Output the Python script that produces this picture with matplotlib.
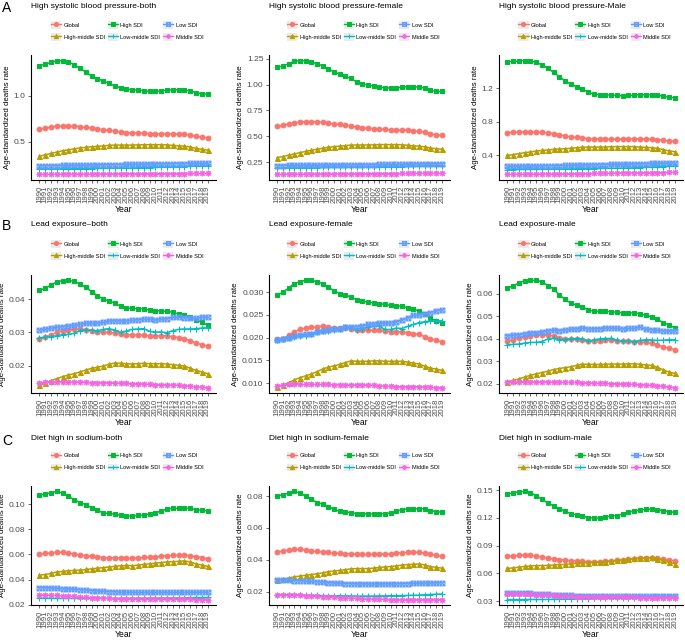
import matplotlib
matplotlib.use('Agg')
import matplotlib.pyplot as plt
from matplotlib.patches import Rectangle
from matplotlib.lines import Line2D
from matplotlib.legend_handler import HandlerTuple
from matplotlib.path import Path

plt.rcParams['font.family'] = ['Liberation Sans', 'DejaVu Sans']

years = list(range(1990, 2020))
groups = ["Global", "High-middle SDI", "High SDI", "Low-middle SDI", "Low SDI", "Middle SDI"]
colors = ["#F8766D", "#B79F00", "#00BA38", "#00BFC4", "#619CFF", "#F564E3"]

# ---------------- A: High systolic blood pressure ----------------
hsbp_both_global = [0.640,0.650,0.660,0.670,0.672,0.672,0.670,0.665,0.658,0.650,0.640,0.632,0.625,0.618,0.605,0.600,0.598,0.596,0.594,0.590,0.588,0.588,0.590,0.588,0.585,0.582,0.575,0.562,0.552,0.545]
hsbp_both_hm = [0.345,0.360,0.375,0.390,0.405,0.415,0.425,0.435,0.442,0.448,0.452,0.458,0.463,0.466,0.466,0.466,0.466,0.468,0.470,0.470,0.470,0.470,0.468,0.462,0.458,0.455,0.445,0.430,0.420,0.412]
hsbp_both_high = [1.322,1.340,1.360,1.378,1.375,1.365,1.335,1.295,1.255,1.212,1.180,1.160,1.132,1.105,1.085,1.072,1.065,1.060,1.055,1.048,1.048,1.052,1.060,1.065,1.062,1.060,1.052,1.032,1.022,1.015]
hsbp_both_lm = [0.207,0.207,0.208,0.208,0.209,0.209,0.210,0.210,0.211,0.212,0.213,0.214,0.215,0.216,0.217,0.218,0.219,0.220,0.221,0.222,0.224,0.226,0.228,0.230,0.232,0.234,0.236,0.238,0.239,0.240]
hsbp_both_low = [0.242,0.243,0.244,0.245,0.246,0.247,0.248,0.249,0.250,0.251,0.252,0.253,0.254,0.255,0.256,0.257,0.258,0.259,0.260,0.261,0.262,0.263,0.264,0.265,0.266,0.266,0.267,0.268,0.269,0.270]
hsbp_both_mid = [0.150,0.150,0.151,0.151,0.151,0.152,0.152,0.152,0.152,0.153,0.153,0.153,0.154,0.154,0.154,0.155,0.155,0.155,0.156,0.156,0.156,0.157,0.157,0.158,0.158,0.158,0.159,0.159,0.160,0.160]

hsbp_f_global = [0.595,0.605,0.618,0.630,0.638,0.642,0.642,0.640,0.635,0.628,0.620,0.614,0.608,0.600,0.590,0.582,0.578,0.574,0.570,0.566,0.563,0.562,0.561,0.558,0.553,0.548,0.540,0.527,0.513,0.508]
hsbp_f_hm = [0.295,0.305,0.318,0.330,0.342,0.355,0.365,0.375,0.385,0.393,0.400,0.405,0.410,0.415,0.416,0.416,0.416,0.418,0.420,0.420,0.420,0.420,0.418,0.413,0.408,0.405,0.398,0.388,0.380,0.375]
hsbp_f_high = [1.165,1.180,1.200,1.225,1.230,1.230,1.220,1.200,1.180,1.150,1.122,1.100,1.080,1.058,1.025,1.005,0.995,0.985,0.975,0.970,0.965,0.968,0.975,0.980,0.978,0.975,0.965,0.945,0.935,0.933]
hsbp_f_lm = [0.195,0.195,0.196,0.196,0.197,0.197,0.198,0.198,0.199,0.199,0.200,0.200,0.201,0.201,0.202,0.202,0.203,0.203,0.204,0.205,0.206,0.207,0.208,0.209,0.210,0.211,0.212,0.213,0.214,0.215]
hsbp_f_low = [0.218,0.218,0.219,0.219,0.220,0.220,0.221,0.221,0.222,0.222,0.223,0.223,0.224,0.224,0.225,0.226,0.226,0.227,0.228,0.228,0.229,0.230,0.230,0.231,0.232,0.233,0.233,0.234,0.235,0.236]
hsbp_f_mid = [0.133,0.133,0.134,0.134,0.134,0.135,0.135,0.135,0.136,0.136,0.136,0.137,0.137,0.137,0.138,0.138,0.138,0.139,0.139,0.139,0.140,0.140,0.141,0.141,0.141,0.142,0.142,0.142,0.143,0.143]

hsbp_m_global = [0.672,0.675,0.680,0.683,0.682,0.680,0.675,0.668,0.658,0.645,0.633,0.622,0.615,0.610,0.600,0.597,0.595,0.594,0.594,0.594,0.595,0.597,0.598,0.598,0.596,0.594,0.590,0.582,0.574,0.568]
hsbp_m_hm = [0.400,0.410,0.422,0.432,0.442,0.452,0.460,0.466,0.472,0.477,0.480,0.485,0.492,0.498,0.500,0.500,0.500,0.502,0.504,0.505,0.506,0.506,0.505,0.500,0.496,0.493,0.485,0.470,0.455,0.445]
hsbp_m_high = [1.518,1.522,1.527,1.530,1.525,1.510,1.480,1.440,1.390,1.340,1.290,1.250,1.220,1.190,1.155,1.130,1.125,1.122,1.120,1.115,1.113,1.115,1.120,1.125,1.123,1.125,1.120,1.105,1.095,1.088]
hsbp_m_lm = [0.232,0.232,0.233,0.233,0.234,0.235,0.235,0.236,0.237,0.238,0.239,0.240,0.241,0.242,0.243,0.244,0.245,0.246,0.247,0.248,0.249,0.250,0.252,0.255,0.258,0.261,0.264,0.267,0.270,0.272]
hsbp_m_low = [0.270,0.271,0.272,0.273,0.274,0.275,0.276,0.277,0.278,0.280,0.281,0.283,0.284,0.286,0.287,0.289,0.290,0.292,0.293,0.295,0.296,0.298,0.299,0.301,0.302,0.304,0.306,0.308,0.310,0.312]
hsbp_m_mid = [0.175,0.175,0.176,0.176,0.177,0.177,0.178,0.178,0.179,0.179,0.180,0.181,0.182,0.183,0.184,0.185,0.186,0.187,0.188,0.189,0.190,0.191,0.192,0.193,0.194,0.195,0.196,0.196,0.197,0.198]

# ---------------- B: Lead exposure ----------------
lead_both_global = [0.0281,0.0286,0.0292,0.0300,0.0305,0.0307,0.0309,0.0310,0.0308,0.0304,0.0302,0.0300,0.0300,0.0298,0.0294,0.0293,0.0293,0.0293,0.0292,0.0290,0.0290,0.0290,0.0289,0.0287,0.0284,0.0281,0.0275,0.0268,0.0263,0.0259]
lead_both_hm = [0.0141,0.0148,0.0155,0.0161,0.0167,0.0172,0.0176,0.0181,0.0187,0.0192,0.0195,0.0199,0.0204,0.0208,0.0207,0.0206,0.0205,0.0206,0.0207,0.0206,0.0206,0.0206,0.0205,0.0203,0.0201,0.0199,0.0192,0.0186,0.0181,0.0176]
lead_both_high = [0.0426,0.0432,0.0442,0.0452,0.0455,0.0456,0.0453,0.0445,0.0435,0.0422,0.0410,0.0400,0.0394,0.0388,0.0378,0.0374,0.0372,0.0371,0.0370,0.0367,0.0365,0.0364,0.0363,0.0360,0.0355,0.0352,0.0346,0.0338,0.0330,0.0322]
lead_both_lm = [0.0284,0.0285,0.0287,0.0290,0.0293,0.0294,0.0297,0.0305,0.0308,0.0306,0.0305,0.0309,0.0311,0.0307,0.0300,0.0304,0.0309,0.0310,0.0311,0.0303,0.0301,0.0301,0.0299,0.0305,0.0309,0.0310,0.0310,0.0311,0.0313,0.0314]
lead_both_low = [0.0307,0.0309,0.0312,0.0315,0.0317,0.0319,0.0321,0.0324,0.0327,0.0327,0.0328,0.0330,0.0333,0.0335,0.0334,0.0334,0.0336,0.0338,0.0339,0.0339,0.0337,0.0339,0.0341,0.0346,0.0345,0.0344,0.0342,0.0342,0.0345,0.0346]
lead_both_mid = [0.0148,0.0150,0.0151,0.0151,0.0151,0.0151,0.0151,0.0151,0.0150,0.0149,0.0149,0.0149,0.0149,0.0148,0.0147,0.0147,0.0146,0.0146,0.0145,0.0144,0.0143,0.0143,0.0142,0.0142,0.0141,0.0140,0.0139,0.0137,0.0135,0.0134]

lead_f_global = [0.0196,0.0198,0.0205,0.0213,0.0218,0.0221,0.0223,0.0224,0.0225,0.0223,0.0222,0.0222,0.0222,0.0220,0.0217,0.0216,0.0216,0.0216,0.0216,0.0214,0.0213,0.0213,0.0212,0.0211,0.0209,0.0207,0.0202,0.0197,0.0194,0.0191]
lead_f_hm = [0.0092,0.0096,0.0101,0.0107,0.0112,0.0116,0.0120,0.0125,0.0131,0.0135,0.0138,0.0141,0.0145,0.0149,0.0148,0.0148,0.0148,0.0149,0.0149,0.0148,0.0148,0.0148,0.0148,0.0146,0.0144,0.0142,0.0137,0.0133,0.0131,0.0128]
lead_f_high = [0.0293,0.0300,0.0309,0.0319,0.0323,0.0326,0.0326,0.0323,0.0319,0.0311,0.0303,0.0297,0.0293,0.0290,0.0283,0.0280,0.0278,0.0277,0.0275,0.0273,0.0271,0.0270,0.0269,0.0266,0.0262,0.0259,0.0253,0.0243,0.0237,0.0233]
lead_f_lm = [0.0195,0.0197,0.0199,0.0202,0.0204,0.0204,0.0207,0.0213,0.0215,0.0215,0.0217,0.0220,0.0223,0.0222,0.0216,0.0219,0.0223,0.0225,0.0225,0.0218,0.0218,0.0221,0.0220,0.0225,0.0229,0.0233,0.0235,0.0236,0.0237,0.0237]
lead_f_low = [0.0195,0.0197,0.0200,0.0203,0.0205,0.0207,0.0209,0.0212,0.0215,0.0216,0.0218,0.0220,0.0223,0.0223,0.0224,0.0226,0.0229,0.0230,0.0232,0.0232,0.0232,0.0235,0.0239,0.0244,0.0249,0.0250,0.0252,0.0255,0.0259,0.0261]
lead_f_mid = [0.0094,0.0095,0.0097,0.0097,0.0097,0.0097,0.0097,0.0097,0.0097,0.0097,0.0096,0.0096,0.0096,0.0096,0.0096,0.0096,0.0096,0.0095,0.0094,0.0093,0.0093,0.0092,0.0092,0.0092,0.0092,0.0092,0.0091,0.0091,0.0090,0.0090]

lead_m_global = [0.0390,0.0396,0.0404,0.0410,0.0414,0.0416,0.0417,0.0416,0.0413,0.0405,0.0399,0.0398,0.0398,0.0397,0.0392,0.0391,0.0392,0.0393,0.0393,0.0392,0.0390,0.0389,0.0388,0.0386,0.0384,0.0380,0.0373,0.0365,0.0358,0.0351]
lead_m_hm = [0.0209,0.0215,0.0222,0.0230,0.0238,0.0244,0.0250,0.0256,0.0263,0.0268,0.0272,0.0276,0.0282,0.0287,0.0287,0.0286,0.0286,0.0287,0.0288,0.0288,0.0288,0.0289,0.0289,0.0287,0.0284,0.0282,0.0274,0.0262,0.0253,0.0246]
lead_m_high = [0.0626,0.0636,0.0648,0.0659,0.0660,0.0660,0.0654,0.0637,0.0622,0.0596,0.0575,0.0559,0.0550,0.0542,0.0528,0.0523,0.0522,0.0522,0.0521,0.0518,0.0516,0.0516,0.0515,0.0512,0.0505,0.0498,0.0487,0.0472,0.0462,0.0449]
lead_m_lm = [0.0374,0.0375,0.0377,0.0381,0.0384,0.0384,0.0388,0.0399,0.0402,0.0397,0.0397,0.0400,0.0401,0.0400,0.0390,0.0395,0.0400,0.0401,0.0402,0.0393,0.0390,0.0390,0.0387,0.0393,0.0396,0.0395,0.0393,0.0394,0.0396,0.0396]
lead_m_low = [0.0413,0.0416,0.0418,0.0423,0.0426,0.0428,0.0430,0.0436,0.0439,0.0437,0.0439,0.0442,0.0444,0.0448,0.0444,0.0444,0.0445,0.0448,0.0448,0.0446,0.0444,0.0446,0.0447,0.0451,0.0443,0.0441,0.0438,0.0435,0.0435,0.0436]
lead_m_mid = [0.0206,0.0207,0.0208,0.0208,0.0208,0.0208,0.0208,0.0208,0.0207,0.0206,0.0206,0.0206,0.0206,0.0205,0.0204,0.0203,0.0202,0.0202,0.0201,0.0200,0.0199,0.0198,0.0197,0.0196,0.0195,0.0194,0.0192,0.0189,0.0186,0.0183]

# ---------------- C: Diet high in sodium ----------------
na_both_global = [0.0603,0.0607,0.0612,0.0617,0.0615,0.0610,0.0602,0.0595,0.0590,0.0585,0.0580,0.0575,0.0573,0.0572,0.0570,0.0568,0.0570,0.0572,0.0576,0.0578,0.0580,0.0585,0.0590,0.0592,0.0593,0.0594,0.0590,0.0582,0.0575,0.0565]
na_both_hm = [0.0435,0.0440,0.0450,0.0460,0.0465,0.0470,0.0472,0.0475,0.0480,0.0485,0.0490,0.0495,0.0500,0.0505,0.0510,0.0512,0.0510,0.0515,0.0520,0.0525,0.0530,0.0535,0.0540,0.0542,0.0545,0.0548,0.0540,0.0525,0.0515,0.0505]
na_both_high = [0.1070,0.1080,0.1090,0.1100,0.1085,0.1060,0.1035,0.1010,0.0995,0.0970,0.0950,0.0930,0.0925,0.0920,0.0910,0.0905,0.0905,0.0910,0.0915,0.0920,0.0930,0.0945,0.0960,0.0965,0.0965,0.0970,0.0965,0.0955,0.0950,0.0945]
na_both_lm = [0.0252,0.0251,0.0251,0.0250,0.0250,0.0250,0.0250,0.0250,0.0250,0.0250,0.0250,0.0250,0.0250,0.0250,0.0250,0.0250,0.0251,0.0251,0.0251,0.0252,0.0252,0.0253,0.0253,0.0254,0.0254,0.0255,0.0256,0.0257,0.0257,0.0258]
na_both_low = [0.0337,0.0335,0.0333,0.0330,0.0328,0.0325,0.0322,0.0320,0.0317,0.0313,0.0310,0.0307,0.0305,0.0303,0.0300,0.0299,0.0299,0.0298,0.0298,0.0298,0.0298,0.0298,0.0298,0.0298,0.0298,0.0298,0.0299,0.0299,0.0300,0.0300]
na_both_mid = [0.0278,0.0277,0.0276,0.0274,0.0272,0.0269,0.0266,0.0263,0.0259,0.0256,0.0254,0.0252,0.0250,0.0248,0.0246,0.0245,0.0244,0.0243,0.0243,0.0242,0.0242,0.0242,0.0242,0.0242,0.0242,0.0242,0.0242,0.0241,0.0241,0.0241]

na_f_global = [0.0450,0.0455,0.0462,0.0467,0.0466,0.0462,0.0457,0.0453,0.0450,0.0447,0.0443,0.0440,0.0439,0.0438,0.0435,0.0434,0.0434,0.0435,0.0436,0.0437,0.0438,0.0441,0.0445,0.0447,0.0447,0.0447,0.0443,0.0435,0.0428,0.0422]
na_f_hm = [0.0273,0.0277,0.0285,0.0293,0.0298,0.0303,0.0307,0.0312,0.0318,0.0325,0.0330,0.0333,0.0338,0.0343,0.0345,0.0345,0.0345,0.0348,0.0352,0.0355,0.0358,0.0362,0.0367,0.0370,0.0372,0.0374,0.0368,0.0358,0.0352,0.0348]
na_f_high = [0.0800,0.0810,0.0820,0.0830,0.0820,0.0800,0.0780,0.0760,0.0750,0.0735,0.0718,0.0705,0.0700,0.0697,0.0690,0.0690,0.0688,0.0688,0.0690,0.0690,0.0695,0.0705,0.0715,0.0720,0.0720,0.0722,0.0720,0.0710,0.0702,0.0700]
na_f_lm = [0.0182,0.0181,0.0180,0.0179,0.0178,0.0177,0.0176,0.0176,0.0175,0.0175,0.0174,0.0174,0.0173,0.0173,0.0172,0.0172,0.0172,0.0172,0.0173,0.0173,0.0174,0.0174,0.0175,0.0176,0.0177,0.0178,0.0180,0.0182,0.0184,0.0185]
na_f_low = [0.0276,0.0274,0.0272,0.0270,0.0268,0.0266,0.0264,0.0262,0.0260,0.0257,0.0255,0.0253,0.0251,0.0250,0.0248,0.0248,0.0248,0.0248,0.0248,0.0248,0.0248,0.0249,0.0250,0.0251,0.0252,0.0253,0.0254,0.0254,0.0255,0.0256]
na_f_mid = [0.0180,0.0179,0.0178,0.0177,0.0176,0.0174,0.0172,0.0170,0.0168,0.0166,0.0165,0.0163,0.0161,0.0159,0.0157,0.0155,0.0154,0.0153,0.0152,0.0151,0.0150,0.0150,0.0150,0.0150,0.0150,0.0150,0.0150,0.0150,0.0150,0.0150]

na_m_global = [0.0786,0.0790,0.0795,0.0800,0.0795,0.0788,0.0778,0.0765,0.0758,0.0750,0.0743,0.0737,0.0733,0.0730,0.0727,0.0726,0.0727,0.0730,0.0735,0.0740,0.0745,0.0752,0.0760,0.0765,0.0768,0.0770,0.0765,0.0755,0.0745,0.0735]
na_m_hm = [0.0655,0.0660,0.0668,0.0675,0.0680,0.0685,0.0685,0.0687,0.0690,0.0695,0.0698,0.0702,0.0708,0.0713,0.0718,0.0720,0.0722,0.0727,0.0733,0.0740,0.0748,0.0755,0.0762,0.0767,0.0770,0.0775,0.0760,0.0740,0.0722,0.0705]
na_m_high = [0.1457,0.1470,0.1480,0.1485,0.1470,0.1440,0.1400,0.1360,0.1330,0.1300,0.1270,0.1245,0.1230,0.1222,0.1200,0.1198,0.1200,0.1210,0.1220,0.1225,0.1240,0.1260,0.1275,0.1285,0.1290,0.1295,0.1288,0.1278,0.1268,0.1258]
na_m_lm = [0.0318,0.0318,0.0318,0.0318,0.0319,0.0319,0.0319,0.0320,0.0320,0.0321,0.0322,0.0323,0.0324,0.0326,0.0328,0.0330,0.0331,0.0332,0.0333,0.0334,0.0335,0.0336,0.0337,0.0338,0.0339,0.0340,0.0341,0.0342,0.0344,0.0345]
na_m_low = [0.0392,0.0390,0.0388,0.0386,0.0384,0.0381,0.0378,0.0375,0.0372,0.0369,0.0366,0.0364,0.0362,0.0361,0.0360,0.0359,0.0358,0.0357,0.0356,0.0356,0.0355,0.0355,0.0354,0.0354,0.0353,0.0353,0.0353,0.0352,0.0352,0.0352]
na_m_mid = [0.0383,0.0382,0.0380,0.0378,0.0375,0.0372,0.0369,0.0366,0.0363,0.0360,0.0357,0.0354,0.0351,0.0349,0.0347,0.0345,0.0344,0.0343,0.0342,0.0342,0.0341,0.0341,0.0341,0.0340,0.0340,0.0340,0.0340,0.0340,0.0340,0.0340]

panel_titles = ["High systolic blood pressure-both", "High systolic blood pressure-female", "High systolic blood pressure-Male",
                "Lead exposure\u2013both", "Lead exposure-female", "Lead exposure-male",
                "Diet high in sodium-both", "Diet high in sodium-female", "Diet high in sodium-male"]
panel_series = [
    [hsbp_both_global, hsbp_both_hm, hsbp_both_high, hsbp_both_lm, hsbp_both_low, hsbp_both_mid],
    [hsbp_f_global, hsbp_f_hm, hsbp_f_high, hsbp_f_lm, hsbp_f_low, hsbp_f_mid],
    [hsbp_m_global, hsbp_m_hm, hsbp_m_high, hsbp_m_lm, hsbp_m_low, hsbp_m_mid],
    [lead_both_global, lead_both_hm, lead_both_high, lead_both_lm, lead_both_low, lead_both_mid],
    [lead_f_global, lead_f_hm, lead_f_high, lead_f_lm, lead_f_low, lead_f_mid],
    [lead_m_global, lead_m_hm, lead_m_high, lead_m_lm, lead_m_low, lead_m_mid],
    [na_both_global, na_both_hm, na_both_high, na_both_lm, na_both_low, na_both_mid],
    [na_f_global, na_f_hm, na_f_high, na_f_lm, na_f_low, na_f_mid],
    [na_m_global, na_m_hm, na_m_high, na_m_lm, na_m_low, na_m_mid],
]
panel_yticks = [
    [0.5, 1.0], [0.25, 0.50, 0.75, 1.00, 1.25], [0.4, 0.8, 1.2],
    [0.02, 0.03, 0.04], [0.010, 0.015, 0.020, 0.025, 0.030], [0.02, 0.03, 0.04, 0.05, 0.06],
    [0.02, 0.04, 0.06, 0.08, 0.10], [0.02, 0.04, 0.06, 0.08], [0.03, 0.06, 0.09, 0.12, 0.15],
]
panel_yticklabels = [
    ["0.5", "1.0"], ["0.25", "0.50", "0.75", "1.00", "1.25"], ["0.4", "0.8", "1.2"],
    ["0.02", "0.03", "0.04"], ["0.010", "0.015", "0.020", "0.025", "0.030"], ["0.02", "0.03", "0.04", "0.05", "0.06"],
    ["0.02", "0.04", "0.06", "0.08", "0.10"], ["0.02", "0.04", "0.06", "0.08"], ["0.03", "0.06", "0.09", "0.12", "0.15"],
]
row_letters = ["A", "B", "C"]

# marker shapes (ggplot defaults 16,17,15,3,7,8)
box_x = Path([(-1, -1), (1, -1), (1, 1), (-1, 1), (-1, -1), (-1, -1), (1, 1), (-1, 1), (1, -1)],
             [Path.MOVETO, Path.LINETO, Path.LINETO, Path.LINETO, Path.CLOSEPOLY,
              Path.MOVETO, Path.LINETO, Path.MOVETO, Path.LINETO])
markers = ['o', '^', 's', '+', box_x, (8, 2, 0)]
msizes = [3.4, 3.6, 3.2, 4.0, 3.4, 4.0]
filled = [True, True, True, False, False, False]

W, H = 685, 640
fig = plt.figure(figsize=(W / 100, H / 100), dpi=100)

col_x = [(31, 216), (269, 450), (499, 683)]
row_y = [(55, 180), (275, 393), (486, 605)]

for idx in range(9):
    r, c = divmod(idx, 3)
    x0, x1 = col_x[c]
    y0, y1 = row_y[r]
    ax = fig.add_axes([x0 / W, 1 - y1 / H, (x1 - x0) / W, (y1 - y0) / H])
    handles = []
    for k in range(6):
        col = colors[k]
        ax.plot(years, panel_series[idx][k], color=col, lw=1.1,
                marker=markers[k], ms=msizes[k],
                mfc=col if filled[k] else 'none', mec=col, mew=0.8)
        bg = Rectangle((0, 0), 1, 1, facecolor='#EBEBEB', edgecolor='none')
        h = Line2D([], [], color=col, lw=1.0, marker=markers[k], ms=msizes[k] * 0.85,
                   mfc=col if filled[k] else 'none', mec=col, mew=0.7)
        handles.append((bg, h))
    ax.margins(x=0.05, y=0.05)
    ax.set_xticks(years)
    ax.set_xticklabels([str(y) for y in years], rotation=90, fontsize=5.6, color='#4D4D4D')
    ax.set_yticks(panel_yticks[idx])
    ax.set_yticklabels(panel_yticklabels[idx], fontsize=6.0, color='#4D4D4D')
    ax.tick_params(axis='both', length=2.5, width=0.5, pad=1.5, color='#333333')
    for s in ['top', 'right']:
        ax.spines[s].set_visible(False)
    for s in ['left', 'bottom']:
        ax.spines[s].set_linewidth(0.8)
    ax.set_xlabel('Year', fontsize=6.2, labelpad=1.5)
    ax.set_ylabel('Age-standardized deaths rate', fontsize=5.7, labelpad=2)
    ax.patch.set_alpha(0)

    # panel title
    title_y_px = [6, 224, 439][r]
    ax.text(0.0, 1 + (y0 - title_y_px) / (y1 - y0), panel_titles[idx], transform=ax.transAxes,
            ha='left', va='center', fontsize=6.0, color='black')
    # legend
    leg_center_px = [31, 250, 461.5][r]
    ax.legend(handles, groups, ncol=3, loc='center',
              bbox_to_anchor=(0.52, 1 + (y0 - leg_center_px) / (y1 - y0)),
              frameon=False, fontsize=4.1, handlelength=1.8, handleheight=1.6,
              handletextpad=0.45, columnspacing=0.5, labelspacing=0.8, borderpad=0,
              handler_map={tuple: HandlerTuple(ndivide=1, pad=0)})

for r, letter in enumerate(row_letters):
    ypx = [8, 226, 441][r]
    fig.text(2 / W, 1 - ypx / H, letter, ha='left', va='center', fontsize=10)

fig.savefig('out.png', dpi=100)
